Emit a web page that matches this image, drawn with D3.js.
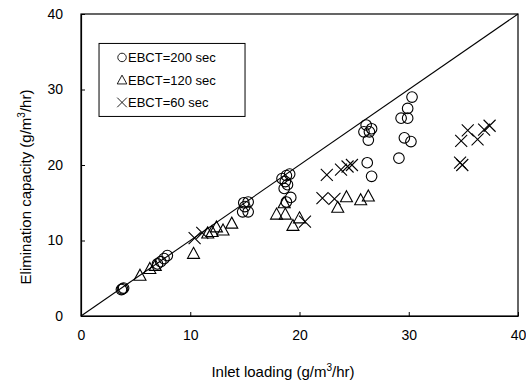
<!DOCTYPE html>
<html>
<head>
<meta charset="utf-8">
<script src="https://cdn.jsdelivr.net/npm/d3@7"></script>
<style>
  body { margin: 0; background: #fff; }
  text { font-family: Arial, "Liberation Sans", sans-serif; fill: #000; }
</style>
</head>
<body>
<div id="chart"></div>
<script>
// EBCT = 200 sec (circles)
const ebct200 = [
    [3.7, 3.5], [3.8, 3.6], [3.9, 3.7], [7.0, 6.9], [7.3, 7.2], [7.6, 7.6], [7.9, 8.0],
    [14.9, 15.0], [15.3, 15.1], [14.8, 13.8], [15.3, 13.8], [15.0, 14.5],
    [18.4, 18.2], [18.8, 18.6], [19.1, 18.8], [18.7, 17.8], [18.9, 17.4], [18.6, 16.9],
    [19.2, 15.7], [18.8, 15.1],
    [26.1, 25.3], [26.6, 24.8], [25.9, 24.4], [26.4, 24.4], [26.3, 23.3], [26.2, 20.3], [26.6, 18.5],
    [29.1, 20.9], [29.6, 23.6], [30.2, 23.1], [29.3, 26.2], [29.9, 26.2], [29.9, 27.5], [30.3, 29.0]
];
// EBCT = 120 sec (triangles)
const ebct120 = [
    [5.4, 5.4], [6.3, 6.3], [6.8, 6.7], [10.3, 8.3], [11.6, 11.0], [12.0, 11.2], [12.4, 11.8],
    [13.0, 11.4], [13.8, 12.3], [17.9, 13.5], [18.7, 13.5], [18.6, 15.0], [19.4, 12.0],
    [20.0, 13.0], [23.5, 14.4], [24.3, 15.8], [25.6, 15.4], [26.3, 15.9]
];
// EBCT = 60 sec (crosses)
const ebct60 = [
    [10.4, 10.3], [11.1, 11.0], [20.5, 12.5], [22.1, 15.6], [23.2, 15.5], [22.5, 18.7],
    [23.8, 19.4], [24.4, 19.8], [24.8, 20.0], [34.7, 20.3], [34.9, 20.0], [34.8, 23.2],
    [35.4, 24.6], [36.3, 23.4], [36.9, 24.7], [37.4, 25.2]
];
const xTicks = [0, 10, 20, 30, 40];
const yTicks = [0, 10, 20, 30, 40];
const legendLabels = ["EBCT=200 sec", "EBCT=120 sec", "EBCT=60 sec"];

const W = 526, H = 389;
const margin = { top: 14, right: 8, bottom: 73, left: 81 };
const width = W - margin.left - margin.right;
const height = H - margin.top - margin.bottom;

const svg = d3.select("#chart").append("svg")
    .attr("width", W)
    .attr("height", H);

const g = svg.append("g")
    .attr("transform", "translate(" + margin.left + "," + margin.top + ")");

const x = d3.scaleLinear().domain([0, 40]).range([0, width]);
const y = d3.scaleLinear().domain([0, 40]).range([height, 0]);

// frame
g.append("rect")
    .attr("width", width)
    .attr("height", height)
    .attr("fill", "none")
    .attr("stroke", "#000")
    .attr("stroke-width", 1.2);

// axes, ticks pointing inward
const xAxis = g.append("g")
    .attr("transform", "translate(0," + height + ")")
    .call(d3.axisBottom(x).tickValues(xTicks).tickSizeInner(-4).tickSizeOuter(0).tickPadding(14));
const yAxis = g.append("g")
    .call(d3.axisLeft(y).tickValues(yTicks).tickSizeInner(-4).tickSizeOuter(0).tickPadding(18));
[xAxis, yAxis].forEach(a => {
    a.select(".domain").attr("stroke", "#000").attr("stroke-width", 1.2);
    a.selectAll(".tick line").attr("stroke", "#000");
    a.selectAll("text").style("font-size", "14px").attr("font-family", null);
});

// 1:1 line
g.append("line")
    .attr("x1", x(0)).attr("y1", y(0))
    .attr("x2", x(40)).attr("y2", y(40))
    .attr("stroke", "#000")
    .attr("stroke-width", 1.1);

const mk = { fill: "none", stroke: "#000", sw: 1.1 };

function drawCircle(sel) {
    sel.append("circle").attr("r", 5.3)
        .attr("fill", mk.fill).attr("stroke", mk.stroke).attr("stroke-width", mk.sw);
}
function drawTriangle(sel) {
    sel.append("path").attr("d", "M0,-6L6,5H-6Z")
        .attr("fill", mk.fill).attr("stroke", mk.stroke).attr("stroke-width", mk.sw);
}
function drawCross(sel) {
    sel.append("path").attr("d", "M-6,-6L6,6M-6,6L6,-6")
        .attr("fill", "none").attr("stroke", mk.stroke).attr("stroke-width", mk.sw);
}

function series(data, cls, draw) {
    g.selectAll("." + cls)
        .data(data)
        .enter().append("g")
        .attr("class", cls)
        .attr("transform", d => "translate(" + x(d[0]) + "," + y(d[1]) + ")")
        .call(draw);
}
series(ebct200, "s200", drawCircle);
series(ebct120, "s120", drawTriangle);
series(ebct60, "s60", drawCross);

// legend
const legend = g.append("g")
    .attr("transform", "translate(" + (x(1.65)) + "," + (y(36.1)) + ")");
legend.append("rect")
    .attr("width", 146).attr("height", 73)
    .attr("fill", "#fff").attr("stroke", "#000").attr("stroke-width", 1);
const drawers = [drawCircle, drawTriangle, drawCross];
legendLabels.forEach((lab, i) => {
    const row = legend.append("g").attr("transform", "translate(0," + (14 + i * 22.5) + ")");
    const m = row.append("g").attr("transform", "translate(23,0) scale(0.8)");
    drawers[i](m);
    row.append("text")
        .attr("x", 29).attr("y", 0).attr("dy", "0.35em")
        .style("font-size", "13px")
        .text(lab);
});

// axis labels
const xl = svg.append("text")
    .attr("x", 283).attr("y", 377)
    .attr("text-anchor", "middle")
    .style("font-size", "15px");
xl.append("tspan").text("Inlet loading (g/m");
xl.append("tspan").attr("dy", -6).style("font-size", "10px").text("3");
xl.append("tspan").attr("dy", 6).text("/hr)");

const yl = svg.append("text")
    .attr("transform", "translate(31,187) rotate(-90)")
    .attr("text-anchor", "middle")
    .style("font-size", "15px");
yl.append("tspan").text("Elimination capacity (g/m");
yl.append("tspan").attr("dy", -6).style("font-size", "10px").text("3");
yl.append("tspan").attr("dy", 6).text("/hr)");
</script>
</body>
</html>
